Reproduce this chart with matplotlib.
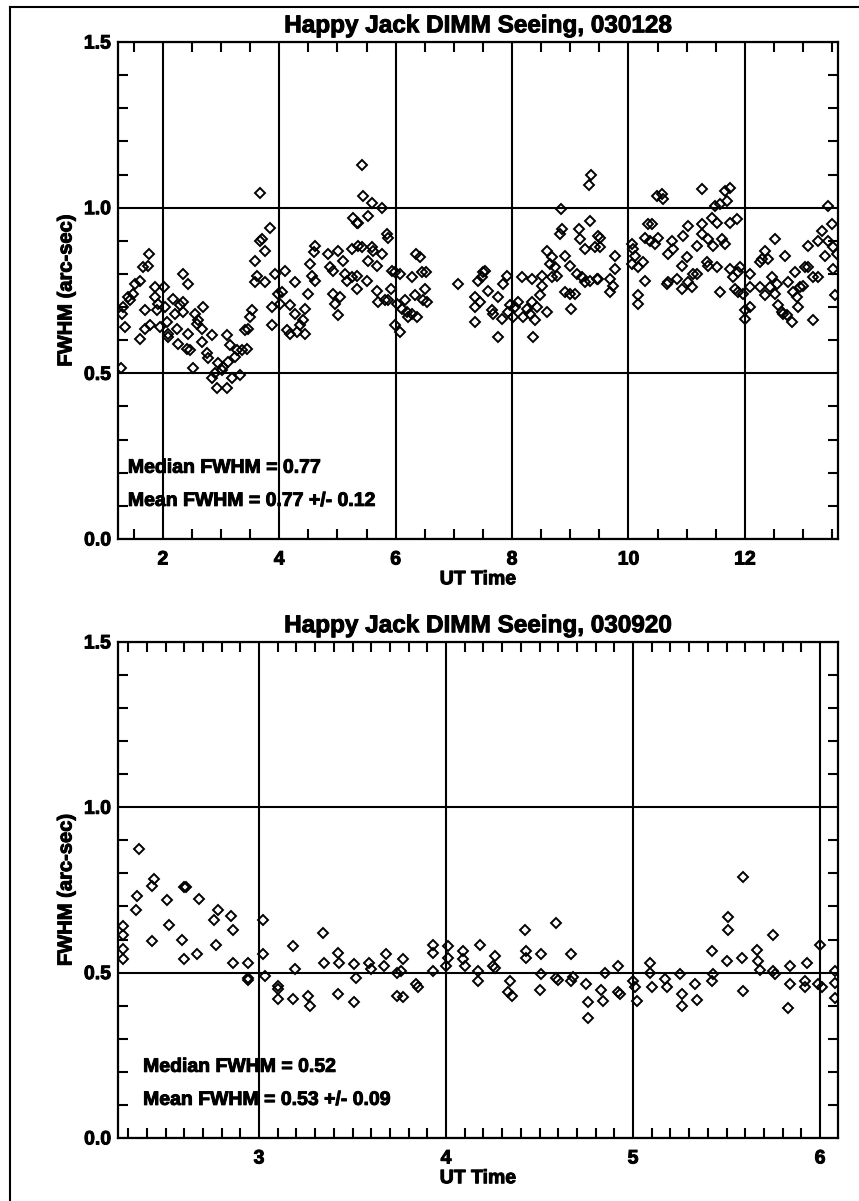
import matplotlib
matplotlib.use('Agg')
import matplotlib.pyplot as plt
import matplotlib.patheffects as pe
from matplotlib.ticker import MultipleLocator, FormatStrFormatter
from matplotlib.lines import Line2D
from matplotlib.text import Text

plt.rcParams['font.family'] = ['Liberation Sans', 'DejaVu Sans']
plt.rcParams['font.weight'] = 'bold'

# ---- 030128 night ----
top_ut = [
    1.28, 1.30, 1.35, 1.31, 1.40, 1.43, 1.48, 1.52, 1.60, 1.66, 1.74, 1.76, 1.60, 1.69, 1.69,
    1.78, 1.86, 1.86, 1.90, 1.91, 1.95, 2.02, 2.03, 2.07, 2.09, 2.09, 2.17, 2.21, 2.24, 2.26,
    2.29, 2.34, 2.34, 2.43, 2.34, 2.41, 2.43, 2.46, 2.52, 2.55, 2.58, 2.60, 2.69, 2.67, 2.67,
    2.76, 2.77, 2.84, 2.84, 2.89, 2.93, 2.95, 3.01, 3.03, 3.10, 3.10, 3.12, 3.15, 3.19, 3.24,
    3.27, 3.32, 3.36, 3.41, 3.44, 3.46, 3.49, 3.53, 3.58, 3.58, 3.61, 3.67, 3.67, 3.70, 3.75,
    3.75, 3.84, 3.87, 3.87, 3.92, 3.98, 4.01, 4.04, 4.10, 4.13, 4.18, 4.18, 4.27, 4.27, 4.30,
    4.35, 4.41, 4.44, 4.44, 4.49, 4.53, 4.56, 4.61, 4.60, 4.61, 4.84, 4.87, 4.92, 4.92, 4.96,
    5.01, 5.01, 5.04, 5.09, 5.13, 5.16, 5.25, 5.25, 5.27, 5.33, 5.33,
    5.42, 5.44, 5.59, 5.76, 5.52, 5.35, 5.85, 5.87, 5.35, 5.42, 5.59, 5.61, 5.76, 5.52, 5.68,
    5.33, 5.50, 5.68, 5.69, 5.81, 5.87, 5.92, 5.93, 5.98, 6.07, 6.02, 6.11, 6.16, 6.19, 6.21,
    6.28, 6.36, 6.33, 6.28, 6.35, 6.42, 6.45, 6.52, 6.50, 6.47, 6.54, 5.99, 6.07, 7.07, 7.36,
    7.36, 7.36, 7.41, 7.48, 7.50, 7.53, 7.45, 7.58, 7.65, 7.67, 7.76, 7.76, 7.82, 7.84, 7.91,
    7.93, 7.96, 8.01, 8.05, 8.10, 8.17, 8.19, 8.25, 8.31, 8.34, 8.34, 8.36, 8.39, 8.43, 8.51,
    8.51, 8.48, 8.60, 8.60, 8.65, 8.69, 8.74, 8.77, 8.69, 8.82, 8.86, 8.84, 8.91, 8.99, 8.91,
    9.01, 8.99, 9.08, 9.11, 9.16, 9.15, 9.25, 9.20, 9.25, 9.34, 9.35, 9.32, 9.34, 9.42, 9.46,
    9.47,
    9.51, 9.51, 9.77, 9.77, 9.47, 9.68, 9.73, 9.68, 10.06, 10.08, 10.11, 10.06, 10.16, 10.25,
    10.28, 10.33, 10.40, 10.28, 10.16, 10.16, 10.37, 10.45, 10.50, 10.49, 10.57, 10.59, 10.66,
    10.68, 10.68, 10.75, 10.76, 10.83, 10.92, 10.92, 10.93, 11.02, 11.00, 11.02, 11.09, 11.11,
    11.18, 11.18, 11.26, 11.26, 11.26, 11.35, 11.36, 11.36, 11.43, 11.45, 11.52, 11.52, 11.48,
    11.57, 11.60, 11.66, 11.57, 11.69, 11.66, 11.74, 11.74, 11.86, 11.74, 11.79, 11.83, 11.88,
    11.91, 11.88, 11.97, 12.00, 12.00, 12.09, 12.09, 12.09, 12.26, 12.26, 12.29, 12.34, 12.40,
    12.34, 12.43, 12.52, 12.46, 12.52, 12.55, 12.57, 12.64, 12.69, 12.65, 12.72, 12.74, 12.81,
    12.83, 12.86, 12.89, 12.91, 12.94, 12.99, 13.03, 13.08, 13.08, 13.17, 13.17, 13.25, 13.25,
    13.32, 13.37, 13.43, 13.43, 13.49, 13.51, 13.51, 13.54, 13.58,
]
top_fwhm = [
    0.515, 0.68, 0.64, 0.70, 0.73, 0.72, 0.74, 0.77, 0.78, 0.82, 0.825, 0.86, 0.605, 0.69, 0.635,
    0.645, 0.76, 0.73, 0.69, 0.71, 0.64, 0.76, 0.70, 0.655, 0.62, 0.61, 0.725, 0.68, 0.635, 0.59,
    0.705, 0.715, 0.80, 0.77, 0.685, 0.575, 0.62, 0.57, 0.515, 0.68, 0.65, 0.66, 0.70, 0.635, 0.595,
    0.56, 0.545, 0.615, 0.485, 0.50, 0.455, 0.53, 0.51, 0.52, 0.615, 0.455, 0.535, 0.585, 0.485, 0.55,
    0.57, 0.495, 0.57, 0.63, 0.575, 0.635, 0.67, 0.69, 0.775, 0.84, 0.795, 1.045, 0.90, 0.905, 0.87,
    0.775, 0.94, 0.645, 0.70, 0.80, 0.74, 0.71, 0.745, 0.81, 0.63, 0.62, 0.705, 0.775, 0.68, 0.625,
    0.645, 0.66, 0.695, 0.62, 0.74, 0.83, 0.795, 0.78, 0.865, 0.885, 0.86, 0.82, 0.81, 0.74, 0.71,
    0.675, 0.87, 0.73, 0.84, 0.80, 0.78, 0.79, 0.875, 0.97, 0.955, 0.755,
    1.13, 1.035, 1.015, 1.00, 0.975, 0.955, 0.92, 0.91, 0.885, 0.88, 0.88, 0.87, 0.86, 0.84, 0.825,
    0.795, 0.78, 0.75, 0.715, 0.72, 0.72, 0.755, 0.81, 0.805, 0.80, 0.71, 0.695, 0.72, 0.685, 0.67,
    0.68, 0.67, 0.735, 0.79, 0.86, 0.85, 0.805, 0.805, 0.755, 0.72, 0.715, 0.645, 0.625, 0.77, 0.655,
    0.73, 0.70, 0.78, 0.79, 0.805, 0.81, 0.715, 0.75, 0.69, 0.68, 0.73, 0.61, 0.665, 0.77, 0.795,
    0.685, 0.705, 0.67, 0.70, 0.715, 0.79, 0.67, 0.695, 0.68, 0.785, 0.715, 0.61, 0.66, 0.70, 0.795,
    0.765, 0.735, 0.685, 0.87, 0.83, 0.85, 0.82, 0.795, 0.79, 0.92, 0.935, 0.995, 0.855, 0.825, 0.745,
    0.695, 0.74, 0.74, 0.80, 0.905, 0.935, 0.875, 0.79, 0.775, 0.96, 1.10, 1.07, 0.78, 0.88, 0.785,
    0.915,
    0.91, 0.88, 0.855, 0.815, 0.785, 0.785, 0.765, 0.745, 0.89, 0.875, 0.855, 0.83, 0.82, 0.835,
    0.91, 0.95, 0.95, 0.78, 0.735, 0.71, 0.90, 0.89, 0.91, 1.035, 1.04, 1.025, 0.77,
    0.775, 0.86, 0.90, 0.875, 0.785, 0.755, 0.825, 0.915, 0.945, 0.85, 0.775, 0.76, 0.80,
    0.80, 0.885, 1.055, 0.95, 0.92, 0.835, 0.825, 0.905, 0.97, 0.885, 0.955, 0.82, 1.005,
    1.01, 0.905, 0.89, 0.745, 1.02, 1.05, 1.06, 0.955, 0.965, 0.815, 0.79, 0.755, 0.805,
    0.82, 0.745, 0.74, 0.69, 0.665, 0.80, 0.76, 0.70, 0.76, 0.835, 0.845, 0.87, 0.845,
    0.735, 0.76, 0.905, 0.79, 0.74, 0.77, 0.705, 0.685, 0.855, 0.68, 0.675, 0.775, 0.655,
    0.745, 0.805, 0.73, 0.70, 0.76, 0.765, 0.82, 0.82, 0.885, 0.66, 0.79, 0.90, 0.79,
    0.93, 0.855, 1.005, 0.90, 0.95, 0.88, 0.815, 0.735, 0.86,
]

# ---- 030920 night ----
bot_ut = [
    2.36, 2.35, 2.43, 2.44, 2.61, 2.68, 2.51, 2.34, 2.27, 2.27, 2.27, 2.27, 2.43, 2.52, 2.60,
    2.59, 2.60, 2.67, 2.78, 2.76, 2.77, 2.85, 2.86, 2.86, 2.94, 2.94, 2.94, 3.02, 3.02, 3.03,
    3.10, 3.10, 3.10, 3.18, 3.19, 3.18, 3.26, 3.27, 3.34, 3.35, 3.42, 3.43, 3.42, 3.51, 3.52,
    3.51, 3.59, 3.60, 3.67, 3.68, 3.74, 3.74,
    3.77, 3.76, 3.77, 3.84, 3.85, 3.93, 3.93, 3.93, 4.01, 4.01, 4.00, 4.09, 4.09, 4.10, 4.18,
    4.17, 4.17, 4.26, 4.25, 4.26, 4.34, 4.33, 4.35, 4.42, 4.43, 4.43, 4.51, 4.51, 4.50, 4.59,
    4.59, 4.60, 4.67, 4.68, 4.67, 4.75, 4.76, 4.76, 4.83, 4.84, 4.85, 4.92, 4.92, 4.93, 5.00,
    5.01, 5.02, 5.09, 5.09, 5.10, 5.17, 5.18, 5.25, 5.26, 5.26, 5.33, 5.34, 5.42, 5.43, 5.42,
    5.51, 5.51, 5.50, 5.58, 5.59, 5.66, 5.67, 5.68, 5.75, 5.75, 5.76, 5.84, 5.84, 5.83, 5.92,
    5.93, 5.92, 6.00, 5.99, 6.01, 6.08, 6.08, 6.08, 5.59,
]
bot_fwhm = [
    0.874, 0.733, 0.763, 0.784, 0.76, 0.724, 0.72, 0.69, 0.64, 0.615, 0.57, 0.54, 0.595, 0.643, 0.76,
    0.598, 0.54, 0.555, 0.69, 0.66, 0.585, 0.67, 0.63, 0.53, 0.53, 0.485, 0.477, 0.66, 0.555, 0.49,
    0.46, 0.45, 0.42, 0.58, 0.51, 0.42, 0.43, 0.40, 0.62, 0.53, 0.56, 0.53, 0.435, 0.525, 0.485,
    0.41, 0.53, 0.51, 0.52, 0.555, 0.50, 0.43,
    0.54, 0.505, 0.425, 0.465, 0.455, 0.56, 0.585, 0.505, 0.58, 0.545, 0.52, 0.565, 0.54, 0.52, 0.585,
    0.505, 0.475, 0.55, 0.52, 0.515, 0.475, 0.44, 0.43, 0.63, 0.565, 0.545, 0.555, 0.495, 0.447, 0.65,
    0.485, 0.477, 0.555, 0.487, 0.475, 0.465, 0.41, 0.363, 0.447, 0.415, 0.50, 0.52, 0.44, 0.435, 0.475,
    0.455, 0.415, 0.53, 0.50, 0.457, 0.48, 0.455, 0.495, 0.435, 0.40, 0.465, 0.418, 0.565, 0.495, 0.475,
    0.667, 0.628, 0.535, 0.545, 0.445, 0.567, 0.535, 0.508, 0.613, 0.505, 0.495, 0.52, 0.465, 0.393, 0.475,
    0.53, 0.455, 0.585, 0.465, 0.457, 0.505, 0.47, 0.423, 0.79,
]

titles = ["Happy Jack DIMM Seeing, 030128", "Happy Jack DIMM Seeing, 030920"]
stats = [("Median FWHM = 0.77", "Mean FWHM = 0.77 +/- 0.12"),
         ("Median FWHM = 0.52", "Mean FWHM = 0.53 +/- 0.09")]
xlims = [(1.23, 13.6), (2.246, 6.096)]
xmajor = [2, 1]
xminor = [0.5, 0.1]
text_x = [1.40, 2.38]

fig = plt.figure(figsize=(8.59, 12.01), dpi=100)
boxes = [[0.1374, 0.5512, 0.8382, 0.4138], [0.1374, 0.0525, 0.8382, 0.4130]]
data = [(top_ut, top_fwhm), (bot_ut, bot_fwhm)]

for i in range(2):
    ax = fig.add_axes(boxes[i])
    x, y = data[i]
    ax.plot(x, y, 'D', ms=5.2, mfc='none', mec='black', mew=1.4, ls='none')
    ax.set_xlim(*xlims[i])
    ax.set_ylim(0, 1.5)
    ax.xaxis.set_major_locator(MultipleLocator(xmajor[i]))
    ax.xaxis.set_minor_locator(MultipleLocator(xminor[i]))
    ax.yaxis.set_major_locator(MultipleLocator(0.5))
    ax.yaxis.set_minor_locator(MultipleLocator(0.1))
    ax.yaxis.set_major_formatter(FormatStrFormatter('%.1f'))
    ax.grid(True, which='major', color='black', lw=1.5)
    ax.tick_params(which='both', direction='in', top=True, right=True, width=1.5)
    ax.tick_params(which='major', length=0)
    ax.tick_params(which='minor', length=7.2)
    ax.tick_params(axis='x', labelsize=14, pad=9)
    ax.tick_params(axis='y', labelsize=14, pad=5)
    for s in ax.spines.values():
        s.set_linewidth(1.6)
    ax.set_title(titles[i], fontsize=17.5, fontweight='bold', pad=7)
    ax.set_xlabel("UT Time", fontsize=14, fontweight='bold', labelpad=2)
    ax.set_ylabel("FWHM (arc-sec)", fontsize=14.5, fontweight='bold', labelpad=6)
    ax.text(text_x[i], 0.2, stats[i][0], fontsize=14, fontweight='bold', va='baseline')
    ax.text(text_x[i], 0.1, stats[i][1], fontsize=14, fontweight='bold', va='baseline')

# heavier strokes, like the old plotting-package font
for t in fig.findobj(Text):
    t.set_path_effects([pe.withStroke(linewidth=0.7, foreground='black')])

# page frame from the document the chart was cut from
fig.add_artist(Line2D([10 / 859, 10 / 859], [0, 1 - 7 / 1201], color='black', lw=1.5))
fig.add_artist(Line2D([10 / 859, 1], [1 - 7 / 1201, 1 - 7 / 1201], color='black', lw=1.5))

fig.savefig('out.png', dpi=100)
